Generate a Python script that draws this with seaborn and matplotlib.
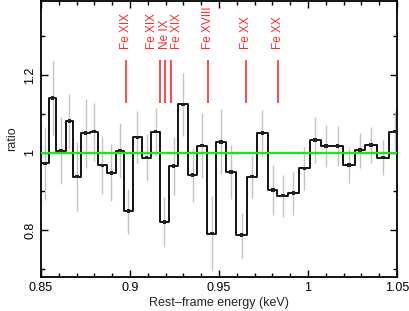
import matplotlib
matplotlib.use("Agg")
import matplotlib.pyplot as plt
import seaborn as sns
import numpy as np
import pandas as pd
from matplotlib.ticker import MultipleLocator, FuncFormatter

# ---- data ----
bin_edges = [0.8497, 0.8545, 0.8586, 0.8639, 0.8680, 0.8726, 0.8774, 0.8820,
             0.8871, 0.8920, 0.8966, 0.9017, 0.9067, 0.9120, 0.9167, 0.9219,
             0.9270, 0.9326, 0.9378, 0.9433, 0.9485, 0.9541, 0.9597, 0.9657,
             0.9713, 0.9775, 0.9828, 0.9888, 0.9949, 1.0010, 1.0071, 1.0135,
             1.0197, 1.0262, 1.0322, 1.0389, 1.0455, 1.0522]
ratio = [0.972, 1.140, 1.005, 1.081, 0.938, 1.050, 1.054, 0.967, 0.948, 1.005,
         0.849, 1.039, 0.987, 1.054, 0.821, 0.965, 1.124, 0.942, 1.018, 0.791,
         1.028, 0.950, 0.787, 0.938, 1.051, 0.903, 0.889, 0.895, 0.959, 1.032,
         1.017, 1.017, 0.968, 1.006, 1.019, 0.987, 1.054]
ratio_err = [0.095, 0.095, 0.086, 0.071, 0.088, 0.089, 0.075, 0.075, 0.073, 0.070,
             0.058, 0.067, 0.060, 0.062, 0.065, 0.075, 0.082, 0.069, 0.084, 0.097,
             0.084, 0.069, 0.058, 0.056, 0.060, 0.065, 0.054, 0.056, 0.056, 0.060,
             0.054, 0.052, 0.047, 0.045, 0.047, 0.045, 0.052]
line_energy = [0.8978, 0.9169, 0.9198, 0.9229, 0.9437, 0.9650, 0.9830]
line_label = ["Fe XIX", "Fe XIX", "Ne IX", "Fe XIX", "Fe XVIII", "Fe XX", "Fe XX"]
label_shift = [0.0, -0.0044, 0.0, 0.0037, 0.0, 0.0, 0.0]

x_ticks = [0.85, 0.9, 0.95, 1.0, 1.05]
y_ticks = [0.8, 1.0, 1.2]

# ---- styling ----
sns.set_style("ticks")
plt.rcParams['font.family'] = ['Liberation Sans', 'DejaVu Sans']

fig = plt.figure(figsize=(4.09, 3.11), dpi=100)
ax = fig.add_axes([41/409, 1 - 277/311, 356/409, 276/311])

edges = np.array(bin_edges)
vals = np.array(ratio)
errs = np.array(ratio_err)
centers = 0.5 * (edges[:-1] + edges[1:])

# error bars (light gray)
ax.vlines(centers, vals - errs, vals + errs, color='#c4c4c4', lw=1.0, zorder=1)

# step histogram
df = pd.DataFrame({'E': edges, 'r': np.append(vals, vals[-1])})
sns.lineplot(data=df, x='E', y='r', drawstyle='steps-post', color='black',
             lw=1.3, estimator=None, ax=ax, zorder=2)

# bin markers
sns.scatterplot(x=centers, y=vals, marker='s', s=7, color='#222222',
                edgecolor='none', ax=ax, zorder=3)

# unity line
ax.axhline(1.0, color='#11ee11', lw=1.6, zorder=4)

# line markers
ax.vlines(line_energy, 1.128, 1.239, color='#ff2a2a', lw=1.2, zorder=4)
for e, lab, sh in zip(line_energy, line_label, label_shift):
    ax.text(e + sh, 1.267, lab, rotation=90, ha='center', va='bottom',
            color='#ff2a2a', fontsize=8.5)

ax.set_xlim(0.85, 1.05)
ax.set_ylim(0.679, 1.391)
ax.set_xticks(x_ticks)
ax.set_yticks(y_ticks)
ax.xaxis.set_minor_locator(MultipleLocator(0.01))
ax.yaxis.set_minor_locator(MultipleLocator(0.1))
fmt = FuncFormatter(lambda v, p: '{:g}'.format(round(v, 3)))
ax.xaxis.set_major_formatter(fmt)
ax.yaxis.set_major_formatter(fmt)
ax.tick_params(which='both', direction='in', top=True, right=True,
               labelsize=9, colors='black', width=1.0)
ax.tick_params(which='major', length=5)
ax.tick_params(which='minor', length=3)
for lbl in ax.get_yticklabels():
    lbl.set_rotation(90)
    lbl.set_va('center')
for sp in ax.spines.values():
    sp.set_linewidth(1.3)
    sp.set_color('black')

ax.set_xlabel('Rest\u2013frame energy (keV)', fontsize=9, labelpad=2)
ax.set_ylabel('ratio', fontsize=9, labelpad=4)

fig.savefig('out.png', dpi=100)
